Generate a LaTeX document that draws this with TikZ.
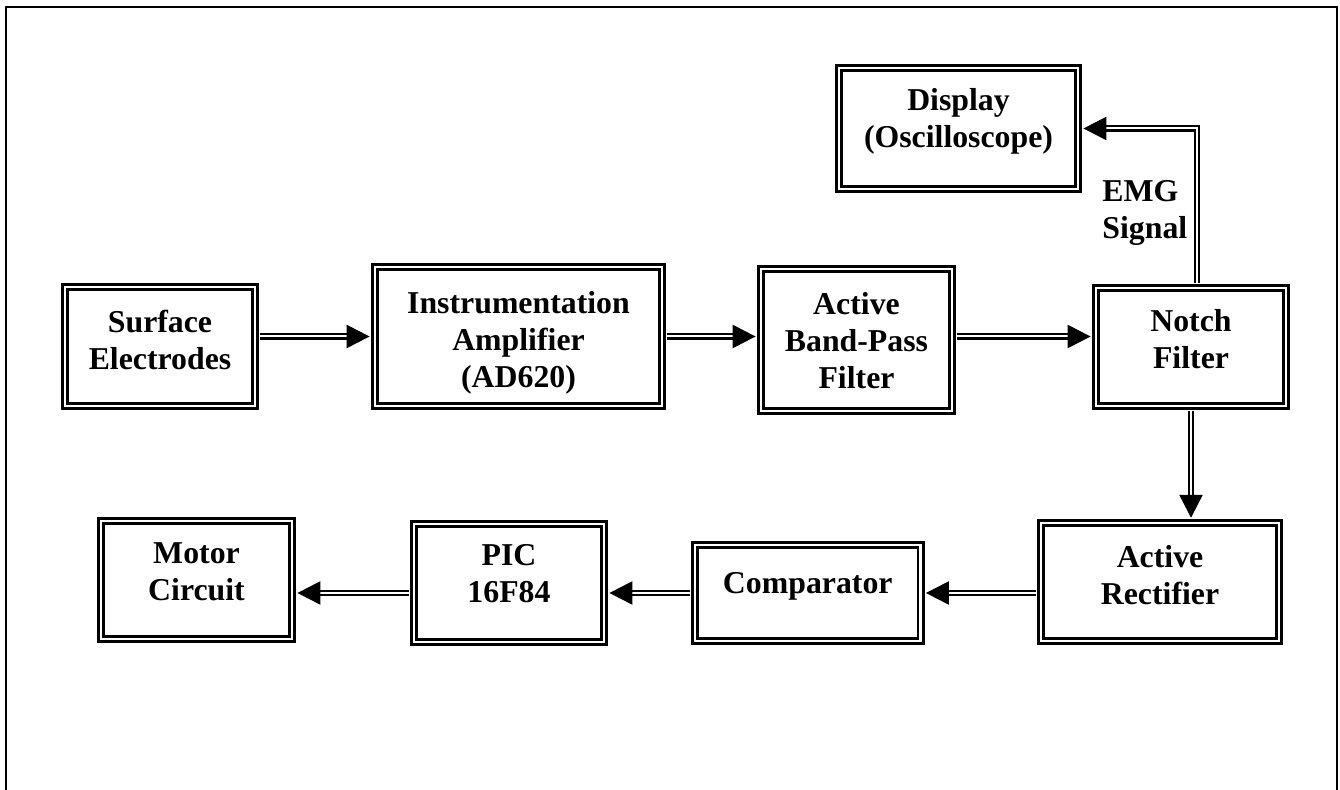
\documentclass[tikz,border=0pt]{standalone}
\usepackage{fontspec}
\setmainfont{Liberation Serif}
\usetikzlibrary{arrows.meta}
% centred stack of lines whose baseline is the first line
\newcommand\boxlines[1]{\begin{tabular}[t]{@{}c@{}}#1\end{tabular}}
\begin{document}
\begin{tikzpicture}[x=0.5pt,y=-0.5pt,
  labelfont/.style={font=\bfseries\fontsize{15.9}{18.5}\selectfont},
  block/.style n args={3}{draw, double, line width=1.4pt, double distance=1.2pt,
    inner sep=0pt, anchor=base, minimum width=#1, text height=#2, text depth=#3,
    labelfont},
  conn/.style={draw, double, line width=1.15pt, double distance=1pt,
    -{Triangle[length=11.5pt,width=11.5pt]}, shorten >=2pt, shorten <=2pt}]
\useasboundingbox (0,0) rectangle (1340,790);

% page frame, open at the bottom
\draw[line width=0.6pt] (6,790) -- (6,7) -- (1337,7) -- (1337,790);

% blocks
\node[block={95pt}{22.9pt}{36.4pt}] (surf) at (160,333) {\boxlines{Surface\\Electrodes}};
\node[block={143.5pt}{23.4pt}{45.9pt}] (instr) at (518.5,314) {\boxlines{Instrumentation\\Amplifier\\(AD620)}};
\node[block={95.5pt}{22.9pt}{47.9pt}] (bp) at (856.5,315) {\boxlines{Active\\Band-Pass\\Filter}};
\node[block={95pt}{21.9pt}{36.9pt}] (notch) at (1191,332) {\boxlines{Notch\\Filter}};
\node[block={119.5pt}{21.4pt}{38.9pt}] (disp) at (958.5,111) {\boxlines{Display\\(Oscilloscope)}};
\node[block={119pt}{22.4pt}{36.4pt}] (rect) at (1160,568) {\boxlines{Active\\Rectifier}};
\node[block={112.75pt}{24.4pt}{23.4pt}] (comp) at (807.75,594) {\boxlines{Comparator}};
\node[block={95pt}{20.9pt}{37.9pt}] (pic) at (509,566) {\boxlines{PIC\\16F84}};
\node[block={95.5pt}{21.4pt}{37.4pt}] (motor) at (196.5,564) {\boxlines{Motor\\Circuit}};

% signal label beside the display branch
\node[labelfont, inner sep=0pt, anchor=base west] (emg) at (1102,202)
  {\begin{tabular}[t]{@{}l@{}}EMG\\Signal\end{tabular}};

% connectors
\draw[conn] (surf.east |- instr.center) -- (instr.west);
\draw[conn] (instr.east) -- (instr.east -| bp.west);
\draw[conn] (instr.east -| bp.east) -- (instr.east -| notch.west);
\draw[conn] ([xshift=3pt]notch.north) |- (disp.east);
\draw[conn] (notch.south) -- (notch.south |- rect.north);
\draw[conn] (rect.west |- comp.east) -- (comp.east);
\draw[conn] (comp.west) -- (comp.west -| pic.east);
\draw[conn] (pic.west |- comp.west) -- (comp.west -| motor.east);
\end{tikzpicture}
\end{document}
